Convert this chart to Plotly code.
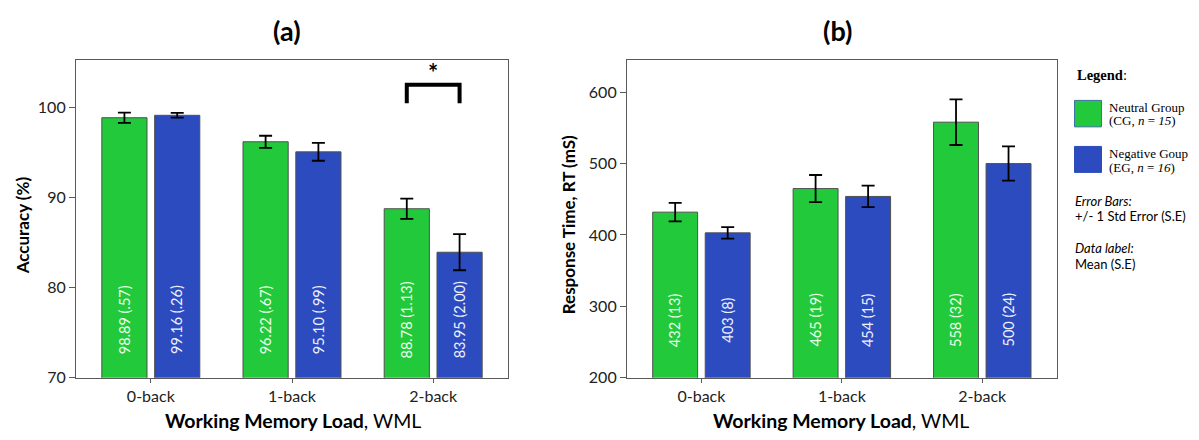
import plotly.graph_objects as go

# ---------------- data ----------------
categories = ["0-back", "1-back", "2-back"]
acc_neutral = [98.89, 96.22, 88.78]
acc_neutral_se = [0.57, 0.67, 1.13]
acc_negative = [99.16, 95.10, 83.95]
acc_negative_se = [0.26, 0.99, 2.00]
rt_neutral = [432, 465, 558]
rt_neutral_se = [13, 19, 32]
rt_negative = [403, 454, 500]
rt_negative_se = [8, 15, 24]
acc_ticks = [70, 80, 90, 100]
rt_ticks = [200, 300, 400, 500, 600]

GREEN = "#22c93b"
BLUE = "#2c4bbe"
FRAME = "#5a5a5a"
SANS = "Lato"
SERIF = "Liberation Serif"

W, H = 1199, 440
BAR_W = 0.32
OFF_G = -0.347
OFF_B = 0.027
pos = list(range(len(categories)))


def fmt_se(v):
    s = f"{v:.2f}"
    return s[1:] if s.startswith("0") else s


def px_x(p):
    return p / W


def px_y(p):
    return 1 - p / H


fig = go.Figure()

panels = [
    ("x", "y", acc_neutral, acc_neutral_se, acc_negative, acc_negative_se, "acc"),
    ("x2", "y2", rt_neutral, rt_neutral_se, rt_negative, rt_negative_se, "rt"),
]

annotations = []
for xa, ya, gm, gse, bm, bse, kind in panels:
    for vals, ses, color, off in ((gm, gse, GREEN, OFF_G), (bm, bse, BLUE, OFF_B)):
        fig.add_trace(go.Bar(
            x=pos, y=vals, xaxis=xa, yaxis=ya,
            width=BAR_W, offset=off,
            marker=dict(color=color, line=dict(color="#505050", width=1)),
            error_y=dict(type="data", array=ses, visible=True,
                         color="black", thickness=1.8, width=6.5),
            showlegend=False, hoverinfo="skip",
        ))
        for i, (m, s) in enumerate(zip(vals, ses)):
            if kind == "acc":
                txt = f"{m:.2f} ({fmt_se(s)})"
                ylab = 76.45
            else:
                txt = f"{m} ({s})"
                ylab = 281.0
            annotations.append(dict(
                x=pos[i] + off + BAR_W / 2, y=ylab, xref=xa, yref=ya,
                text=txt, textangle=-90, showarrow=False,
                font=dict(family=SANS, size=14.5,
                          color="#eaffea" if color == GREEN else "#eef0ff"),
                xanchor="center", yanchor="middle",
            ))

# significance bracket on 2-back accuracy
br_left = pos[2] + OFF_G + BAR_W / 2
br_right = pos[2] + OFF_B + BAR_W / 2
br_top = 102.55
br_foot = 100.5
fig.add_trace(go.Scatter(
    x=[br_left, br_left, br_right, br_right],
    y=[br_foot, br_top, br_top, br_foot],
    xaxis="x", yaxis="y", mode="lines",
    line=dict(color="black", width=4), showlegend=False, hoverinfo="skip",
))
annotations.append(dict(x=pos[2], y=103.9, xref="x", yref="y", text="<b>*</b>",
                        showarrow=False, xanchor="center", yanchor="middle",
                        font=dict(family=SANS, size=24, color="black")))

axis_common = dict(showline=True, linecolor=FRAME, linewidth=1.2, mirror=True,
                   showgrid=False, zeroline=False, ticks="outside",
                   tickcolor=FRAME, tickfont=dict(family=SANS, size=16, color="#222"))

fig.update_layout(
    width=W, height=H,
    margin=dict(l=0, r=0, t=0, b=0),
    paper_bgcolor="white", plot_bgcolor="white",
    barmode="overlay",
    xaxis=dict(domain=[px_x(76), px_x(508)], anchor="y",
               range=[-0.53, 2.53], tickvals=pos, ticktext=categories,
               ticklen=4, **axis_common),
    yaxis=dict(domain=[px_y(385.7), px_y(61)], anchor="x",
               range=[70, 105.33], tickvals=acc_ticks, ticklen=6, **axis_common),
    xaxis2=dict(domain=[px_x(627), px_x(1056.7)], anchor="y2",
                range=[-0.53, 2.53], tickvals=pos, ticktext=categories,
                ticklen=4, **axis_common),
    yaxis2=dict(domain=[px_y(385.7), px_y(61)], anchor="x2",
                range=[200, 645.4], tickvals=rt_ticks, ticklen=6, **axis_common),
)

# titles and axis titles
def centered(x, y, text, size, angle=0):
    return dict(x=px_x(x), y=px_y(y), xref="paper", yref="paper", text=text,
                textangle=angle, showarrow=False, xanchor="center", yanchor="middle",
                font=dict(family=SANS, size=size, color="black"))


annotations += [
    centered(287, 31, "<b>(a)</b>", 27),
    centered(837, 31, "<b>(b)</b>", 27),
    centered(293, 429, "<b>Working Memory Load</b>, WML", 19.5),
    centered(841, 429, "<b>Working Memory Load</b>, WML", 19.5),
    centered(22, 230, "<b>Accuracy (%)</b>", 17, -90),
    centered(568, 230, "<b>Response Time, RT (mS)</b>", 17, -90),
]

# custom legend
legend_lines = [
    (1075, 76.7, "<b>Legend</b>:", SERIF, 14.5),
    (1107, 110, "Neutral Group", SERIF, 13),
    (1107, 123.5, "(CG, <i>n</i> = <i>15</i>)", SERIF, 13),
    (1107, 157, "Negative Goup", SERIF, 13),
    (1107, 170.5, "(EG, <i>n</i> = <i>16</i>)", SERIF, 13),
    (1073, 205, "<i>Error Bars:</i>", SANS, 13),
    (1073, 221, "+/- 1 Std Error (S.E)", SANS, 13),
    (1073, 253, "<i>Data label:</i>", SANS, 13),
    (1073, 270, "Mean (S.E)", SANS, 13),
]
for lx, ly, txt, fam, sz in legend_lines:
    annotations.append(dict(x=px_x(lx), y=px_y(ly), xref="paper", yref="paper",
                            text=txt, showarrow=False, xanchor="left", yanchor="middle",
                            font=dict(family=fam, size=sz, color="black")))

fig.add_shape(type="rect", xref="paper", yref="paper",
              x0=px_x(1074.5), x1=px_x(1101.5), y0=px_y(129.5), y1=px_y(102.5),
              fillcolor=GREEN, line=dict(color="#3f6fa8", width=1))
fig.add_shape(type="rect", xref="paper", yref="paper",
              x0=px_x(1074.5), x1=px_x(1101.5), y0=px_y(176), y1=px_y(149.5),
              fillcolor=BLUE, line=dict(color=BLUE, width=1))

fig.update_layout(annotations=annotations)
page_fix = ("document.documentElement.style.margin='0';"
            "document.body.style.margin='0';")
fig.write_html("out.html", config={"displayModeBar": False}, post_script=page_fix)
